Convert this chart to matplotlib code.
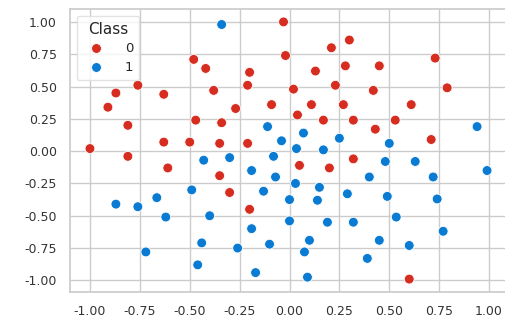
import matplotlib
matplotlib.use("Agg")
import matplotlib.pyplot as plt
import seaborn as sns
import pandas as pd

# Class 0 points
x0 = [-1.00, -0.91, -0.87, -0.76, -0.63, -0.48, -0.42, -0.38, -0.81, -0.63,
      -0.50, -0.47, -0.81, -0.61, -0.03, 0.21, 0.30, -0.02, -0.20, 0.13,
      0.28, -0.21, 0.02, 0.23, -0.27, -0.09, 0.11, 0.27, 0.45, 0.73,
      0.42, 0.79, 0.61, -0.34, 0.04, 0.17, -0.35, -0.21, 0.05, 0.20,
      -0.35, -0.30, -0.20, 0.32, 0.53, 0.43, 0.71, 0.32, 0.60]
y0 = [0.02, 0.34, 0.45, 0.51, 0.44, 0.71, 0.64, 0.47, 0.20, 0.07,
      0.07, 0.24, -0.04, -0.13, 1.00, 0.80, 0.86, 0.74, 0.61, 0.62,
      0.66, 0.51, 0.48, 0.51, 0.33, 0.36, 0.36, 0.36, 0.66, 0.72,
      0.47, 0.49, 0.36, 0.22, 0.28, 0.24, 0.06, 0.06, -0.11, -0.13,
      -0.19, -0.32, -0.45, 0.24, 0.24, 0.17, 0.09, -0.06, -0.99]

# Class 1 points
x1 = [-0.34, -0.11, -0.04, 0.07, 0.25, 0.035, 0.17, -0.43, -0.30, -0.08,
      -0.19, -0.07, 0.03, 0.15, -0.13, 0.00, 0.14, 0.29, 0.50, 0.94,
      0.48, 0.63, 0.99, 0.40, 0.72, 0.49, 0.74, -0.49, -0.665, -0.87,
      -0.76, -0.62, -0.40, -0.44, -0.72, -0.46, 0.00, 0.19, -0.19, -0.26,
      -0.10, 0.10, 0.075, -0.17, 0.09, 0.32, 0.535, 0.77, 0.45, 0.60,
      0.39]
y1 = [0.98, 0.19, 0.08, 0.14, 0.10, 0.02, 0.01, -0.07, -0.05, -0.04,
      -0.15, -0.20, -0.25, -0.28, -0.31, -0.375, -0.38, -0.33, 0.06, 0.19,
      -0.08, -0.08, -0.15, -0.20, -0.20, -0.35, -0.37, -0.30, -0.36, -0.41,
      -0.43, -0.51, -0.50, -0.71, -0.78, -0.88, -0.54, -0.55, -0.60, -0.75,
      -0.72, -0.69, -0.78, -0.94, -0.975, -0.55, -0.51, -0.62, -0.69, -0.73,
      -0.83]

classes = [0, 1]
colors = ["#d62d20", "#0a7bd3"]

df = pd.DataFrame({
    "x": x0 + x1,
    "y": y0 + y1,
    "Class": [classes[0]] * len(x0) + [classes[1]] * len(x1),
})

sns.set_theme(style="whitegrid")
fig = plt.figure(figsize=(5.05, 3.21), dpi=100)
ax = fig.add_axes([70 / 505, 29 / 321, 439 / 505, 283 / 321])

sns.scatterplot(data=df, x="x", y="y", hue="Class", palette=colors,
                s=50, ax=ax, edgecolor="white", linewidth=0.6)

ax.set_xlim(-1.1, 1.1)
ax.set_ylim(-1.09, 1.1)
ax.set_xticks([-1.0, -0.75, -0.5, -0.25, 0.0, 0.25, 0.5, 0.75, 1.0])
ax.set_yticks([-1.0, -0.75, -0.5, -0.25, 0.0, 0.25, 0.5, 0.75, 1.0])
ax.xaxis.set_major_formatter(matplotlib.ticker.FormatStrFormatter("%.2f"))
ax.yaxis.set_major_formatter(matplotlib.ticker.FormatStrFormatter("%.2f"))
ax.tick_params(labelsize=9, colors="#333333")
ax.set_xlabel("")
ax.set_ylabel("")

leg = ax.legend(title="Class", loc="upper left", fontsize=9.5,
                title_fontsize=11, markerscale=1.0, borderpad=0.45,
                labelspacing=0.45, handletextpad=1.2)
leg.get_frame().set_edgecolor("#dddddd")

fig.savefig("out.png", dpi=100)
